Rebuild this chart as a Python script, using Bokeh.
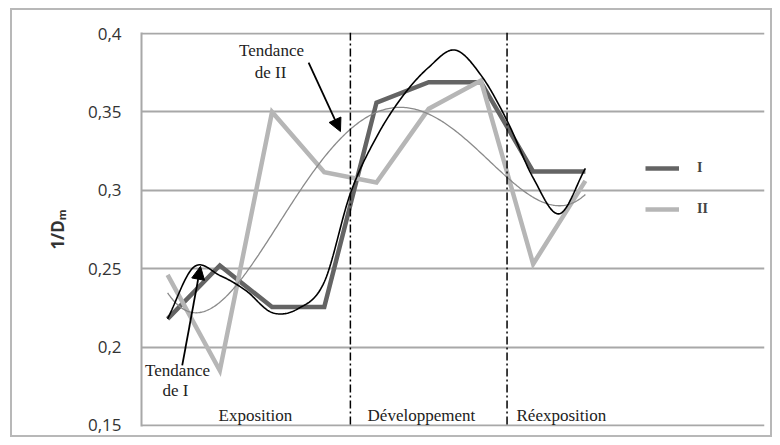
import numpy as np
from bokeh.plotting import figure
from bokeh.models import (Range1d, FixedTicker, Span, Label, Arrow, NormalHead,
                          Legend, LegendItem, InlineStyleSheet)
from bokeh.embed import file_html
from bokeh.resources import INLINE

# ---- data ----
positions = [1, 2, 3, 4, 5, 6, 7, 8, 9]
series_I = [0.218, 0.252, 0.2255, 0.2255, 0.356, 0.369, 0.369, 0.312, 0.312]
series_II = [0.246, 0.185, 0.350, 0.3115, 0.305, 0.352, 0.370, 0.253, 0.306]
series_names = ["I", "II"]
# trend curves every half step
trend_x = [1, 1.5, 2, 2.5, 3, 3.5, 4, 4.5, 5, 5.5, 6, 6.5, 7, 7.5, 8, 8.5, 9]
trend_I = [0.218, 0.251, 0.2457, 0.236, 0.222, 0.2245, 0.2415, 0.298, 0.334,
           0.360, 0.3785, 0.3895, 0.3735, 0.3445, 0.308, 0.285, 0.314]
trend_II = [0.234, 0.2234, 0.2287, 0.246, 0.271, 0.298, 0.323, 0.340, 0.349,
            0.352, 0.3477, 0.338, 0.3254, 0.3084, 0.2956, 0.2892, 0.2978]
y_ticks = [0.15, 0.2, 0.25, 0.3, 0.35, 0.4]
y_tick_labels = ["0,15", "0,2", "0,25", "0,3", "0,35", "0,4"]
sections = ["Exposition", "Développement", "Réexposition"]
section_bounds = [4.5, 7.5]
category_extent = (0.5, 9.5)

# ---- annotation placement (data units) ----
section_label_x = [2.68, 5.86, 8.54]
section_label_y = 0.1563
note_II_lines = ["Tendance", "de II"]
note_II_pos = [(2.99, 0.3892), (2.97, 0.3751)]
note_I_lines = ["Tendance", "de I"]
note_I_pos = [(1.19, 0.1852), (1.15, 0.1722)]
arrow_II = (3.70, 0.3815, 4.31, 0.3375)
arrow_I = (1.28, 0.1883, 1.63, 0.2515)

DARK = "#646464"
LIGHT = "#b6b6b6"
GRID = "#a8a8a8"
FRAME = "#b8b8b8"


def smooth_through(xk, yk, n=24):
    """Cubic Hermite curve passing through the read trend samples."""
    xk = np.asarray(xk, float)
    yk = np.asarray(yk, float)
    m = np.gradient(yk, xk)
    out_x, out_y = [], []
    for i in range(len(xk) - 1):
        h = xk[i + 1] - xk[i]
        t = np.linspace(0, 1, n, endpoint=(i == len(xk) - 2))
        h00 = 2 * t**3 - 3 * t**2 + 1
        h10 = t**3 - 2 * t**2 + t
        h01 = -2 * t**3 + 3 * t**2
        h11 = t**3 - t**2
        out_x.extend(xk[i] + t * h)
        out_y.extend(h00 * yk[i] + h10 * h * m[i] + h01 * yk[i + 1] + h11 * h * m[i + 1])
    return out_x, out_y


p = figure(width=772, height=437, output_backend="svg", toolbar_location=None,
           x_range=Range1d(0.5, 12.43), y_range=Range1d(0.1493, 0.4007),
           min_border_left=141, min_border_right=8, min_border_top=32,
           min_border_bottom=11)
p.outline_line_color = None
p.border_fill_color = None
p.background_fill_color = None
p.stylesheets = [InlineStyleSheet(css=(
    ":host { box-shadow: inset 10px 8px 0 0 white, inset 12px 10px 0 0 " + FRAME +
    ", inset 0 0 0 2px " + FRAME + "; }"))]

p.xaxis.visible = False
p.xgrid.grid_line_color = None
p.ygrid.grid_line_color = GRID
p.ygrid.grid_line_width = 2
p.ygrid.bounds = category_extent
p.yaxis.ticker = FixedTicker(ticks=y_ticks)
p.yaxis.major_label_overrides = {t: l for t, l in zip(y_ticks, y_tick_labels)}
p.yaxis.axis_line_color = GRID
p.yaxis.axis_line_width = 2
p.yaxis.major_tick_line_color = None
p.yaxis.minor_tick_line_color = None
p.yaxis.major_tick_out = 0
p.yaxis.major_label_standoff = 20
p.yaxis.major_label_text_font = "Open Sans"
p.yaxis.major_label_text_font_size = "17px"
p.yaxis.major_label_text_color = "#333333"
p.yaxis.axis_label = "1/D\u2098"
p.yaxis.axis_label_text_font = "Open Sans"
p.yaxis.axis_label_text_font_style = "bold"
p.yaxis.axis_label_text_font_size = "17px"
p.yaxis.axis_label_text_color = "#333333"
p.yaxis.axis_label_standoff = 16

for b in section_bounds:
    p.add_layout(Span(location=b, dimension="height", line_color="black",
                      line_width=1.5, line_dash="8 3 2 3"))

r1 = p.line(positions, series_I, line_color=DARK, line_width=4.5, line_join="miter")
r2 = p.line(positions, series_II, line_color=LIGHT, line_width=4.5, line_join="miter")

xs = np.linspace(trend_x[0], trend_x[-1], 300)
t2 = np.polyval(np.polyfit(trend_x, trend_II, 5), xs)
p.line(xs, t2, line_color="#8a8a8a", line_width=1.3)
t1x, t1y = smooth_through(trend_x, trend_I)
p.line(t1x, t1y, line_color="black", line_width=1.6)

for name, lx in zip(sections, section_label_x):
    p.add_layout(Label(x=lx, y=section_label_y, text=name, text_align="center",
                       text_baseline="middle", text_font="Liberation Serif",
                       text_font_size="17px", text_color="#222222"))
for txt, (lx, ly) in zip(note_II_lines + note_I_lines, note_II_pos + note_I_pos):
    p.add_layout(Label(x=lx, y=ly, text=txt, text_align="center",
                       text_baseline="middle", text_font="Liberation Serif",
                       text_font_size="17px", text_color="#222222"))

for (xa, ya, xb, yb) in (arrow_II, arrow_I):
    p.add_layout(Arrow(end=NormalHead(size=13, fill_color="black", line_color="black"),
                       x_start=xa, y_start=ya, x_end=xb, y_end=yb,
                       line_color="black", line_width=1.8))

legend = Legend(items=[LegendItem(label=series_names[0], renderers=[r1]),
                       LegendItem(label=series_names[1], renderers=[r2])],
                location=(504, 207), padding=0, margin=0, spacing=21,
                glyph_width=34, glyph_height=20, label_height=20,
                label_standoff=18, border_line_alpha=0, background_fill_alpha=0,
                label_text_font="Liberation Serif", label_text_font_size="14px",
                label_text_font_style="bold")
p.add_layout(legend)

open("out.html", "w").write(file_html(p, INLINE))
